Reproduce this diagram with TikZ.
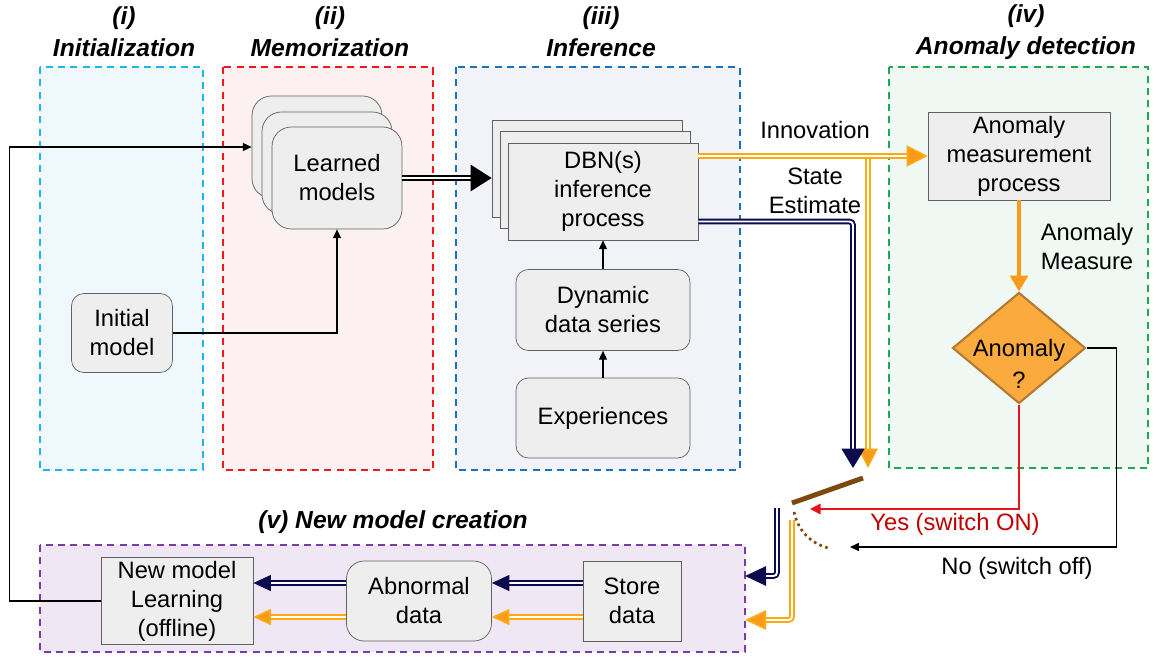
\documentclass[tikz,border=0pt]{standalone}
\usepackage{fontspec}
\setmainfont{Liberation Sans}
\usetikzlibrary{shapes.geometric,arrows.meta,positioning,calc}
\definecolor{navyln}{HTML}{0B0B4F}
\definecolor{orangeln}{HTML}{FFA812}
\definecolor{orangetip}{HTML}{F99A18}
\definecolor{boxgray}{HTML}{EEEEEE}
\definecolor{diafill}{HTML}{FBAB3E}
\definecolor{diadraw}{HTML}{B57A30}
\definecolor{switchbr}{HTML}{7B4A0E}
\definecolor{yesred}{HTML}{E8141B}
\definecolor{yestext}{HTML}{C00000}
\definecolor{initc}{HTML}{1FB5EA}
\definecolor{initf}{HTML}{EEF8FD}
\definecolor{memoc}{HTML}{F01818}
\definecolor{memof}{HTML}{FDF0F0}
\definecolor{infc}{HTML}{1A73C0}
\definecolor{inff}{HTML}{F1F3F9}
\definecolor{anoc}{HTML}{1AAB4F}
\definecolor{anof}{HTML}{EFF8F3}
\definecolor{newc}{HTML}{7B3AA6}
\definecolor{newf}{HTML}{EFE8F4}

\begin{document}
\begin{tikzpicture}[x=0.02cm, y=-0.02cm, font=\fontsize{13.5}{16.5}\selectfont,
    zone/.style={dashed, dash pattern=on 4pt off 3pt, line width=1.1pt},
    gbox/.style={draw=gray!75!black, fill=boxgray, align=center, inner sep=2pt},
    rbox/.style={gbox, rounded corners=7pt},
    ttl/.style={font=\fontsize{14}{18}\selectfont\bfseries\itshape, align=center},
    thinarr/.style={line width=0.7pt, -{Triangle[length=5pt,width=4.5pt]}},
    navydbl/.style={draw=navyln, double=white, double distance=1.1pt, line width=1.1pt, rounded corners=2pt},
    orangedbl/.style={draw=orangeln, double=white, double distance=1.1pt, line width=1.1pt, rounded corners=2pt},
    blkdbl/.style={draw=black, double=white, double distance=1.1pt, line width=1.1pt}]
  \useasboundingbox (0,0) rectangle (1153,657);

  % zones
  \draw[zone, draw=initc, fill=initf] (40,67) rectangle (203,470);
  \draw[zone, draw=memoc, fill=memof] (223,67) rectangle (433,470);
  \draw[zone, draw=infc, fill=inff] (456,67) rectangle (740,470);
  \draw[zone, draw=anoc, fill=anof] (889,67) rectangle (1148,468);
  \draw[zone, draw=newc, fill=newf] (40,545) rectangle (745,652);

  \node[ttl] (t1) at (124,32) {(i)\\Initialization};
  \node[ttl] (t2) at (330,32) {(ii)\\Memorization};
  \node[ttl] (t3) at (601,32) {(iii)\\Inference};
  \node[ttl] (t4) at (1026,32) {(iv)\\Anomaly detection};
  \node[ttl] (t5) at (393,522) {(v) New model creation};

  % nodes
  \node[rbox, minimum width=2.02cm, minimum height=1.58cm] (init) at (122,333) {Initial\\model};
  \node[rbox, rounded corners=11pt, minimum width=2.6cm, minimum height=2.04cm] (lback) at (317,147) {};
  \node[rbox, rounded corners=11pt, minimum width=2.6cm, minimum height=2.04cm] (lmid) at (327,163) {};
  \node[rbox, rounded corners=11pt, minimum width=2.6cm, minimum height=2.04cm] (learned) at (337,178) {Learned\\models};
  \node[gbox, minimum width=3.8cm, minimum height=1.94cm] (dback) at (587,169) {};
  \node[gbox, minimum width=3.8cm, minimum height=1.94cm] (dmid) at (595,180) {};
  \node[gbox, minimum width=3.8cm, minimum height=1.94cm] (dbn) at (603,191.5) {DBN(s)\\inference\\process};
  \node[rbox, minimum width=3.48cm, minimum height=1.62cm] (dyn) at (603,310) {Dynamic\\data series};
  \node[rbox, minimum width=3.48cm, minimum height=1.6cm] (exp) at (603,418) {Experiences};
  \node[gbox, minimum width=3.64cm, minimum height=1.76cm] (meas) at (1019,156) {Anomaly\\measurement\\process};
  \node[diamond, draw=diadraw, line width=1.2pt, fill=diafill, inner sep=0pt,
        minimum width=2.66cm, minimum height=2.22cm,
        label={[align=center, yshift=-9pt, font=\fontsize{13.5}{18}\selectfont]center:Anomaly\\?}] (dia) at (1019,348) {};
  \node[gbox, minimum width=3.04cm, minimum height=1.74cm] (newm) at (177,601) {New model\\Learning\\(offline)};
  \node[rbox, rounded corners=10pt, minimum width=2.9cm, minimum height=1.6cm] (abn) at (419,601) {Abnormal\\data};
  \node[gbox, minimum width=1.96cm, minimum height=1.6cm] (store) at (632,601) {Store\\data};

  % switch
  \coordinate (swA) at (792,503);
  \coordinate (swB) at (863,478);
  \coordinate (oin) at (868,468);
  \coordinate (nin) at (853,468);
  \coordinate (nout) at (777,508);
  \coordinate (oout) at (792,520);
  \coordinate (yesend) at (810,509);
  \coordinate (noend) at (850,547);
  \coordinate (vnav) at (745,576);
  \coordinate (vor) at (745,620);
  \draw[switchbr, line width=2.8pt] (swA) -- (swB);
  \draw[switchbr, dotted, line width=1.5pt] (794,512) to[bend right=30] (828,548);

  % connectors
  \draw[thinarr] (newm.west) -- ++(-91,0) |- (lback.west);
  \draw[thinarr] (init.east) -| (learned.south);
  \draw[blkdbl, -{Triangle[length=12pt,width=15pt]}] (learned.east) -- (learned.east -| dback.west);
  \draw[thinarr] (exp) -- (dyn);
  \draw[thinarr] (dyn) -- (dbn);
  \draw[orangedbl, -{Triangle[length=12pt,width=12pt,fill=orangetip]}] (dbn.east |- meas.west) -- (meas.west);
  \draw[orangedbl, -{Triangle[length=11pt,width=11pt,fill=orangetip]}] ($(oin |- meas.west)+(0,3)$) -- (oin);
  \draw[navydbl, -{Triangle[length=11pt,width=13pt]}] ($(dbn.east)+(0,30)$) -| (nin);
  \draw[orangetip, line width=2.5pt, -{Triangle[length=9pt,width=10pt]}] (meas) -- (dia);
  \draw[yesred, line width=0.8pt, -{Triangle[length=6pt,width=6pt]}] (dia.south) |- (yesend);
  \draw[thinarr] (dia.east) -- ++(30,0) |- (noend);
  \draw[navydbl, -{Triangle[length=12pt,width=11pt]}] (nout) |- (vnav);
  \draw[orangedbl, -{Triangle[length=12pt,width=11pt,fill=orangetip]}] (oout) |- (vor);
  \draw[navydbl, -{Triangle[length=10pt,width=9pt]}] ($(store.west)+(0,-18)$) -- ($(abn.east)+(0,-18)$);
  \draw[orangedbl, -{Triangle[length=10pt,width=9pt,fill=orangetip]}] ($(store.west)+(0,16)$) -- ($(abn.east)+(0,16)$);
  \draw[navydbl, -{Triangle[length=10pt,width=9pt]}] ($(abn.west)+(0,-18)$) -- ($(newm.east)+(0,-18)$);
  \draw[orangedbl, -{Triangle[length=10pt,width=9pt,fill=orangetip]}] ($(abn.west)+(0,16)$) -- ($(newm.east)+(0,16)$);

  % labels
  \node (innov) at (815,130) {Innovation};
  \node[align=center] (state) at (815,191) {State\\Estimate};
  \node[align=center] (ameas) at (1087,247) {Anomaly\\Measure};
  \node[text=yestext] (yes) at (955,524) {Yes (switch ON)};
  \node (no) at (1017,568) {No (switch off)};
\end{tikzpicture}
\end{document}
